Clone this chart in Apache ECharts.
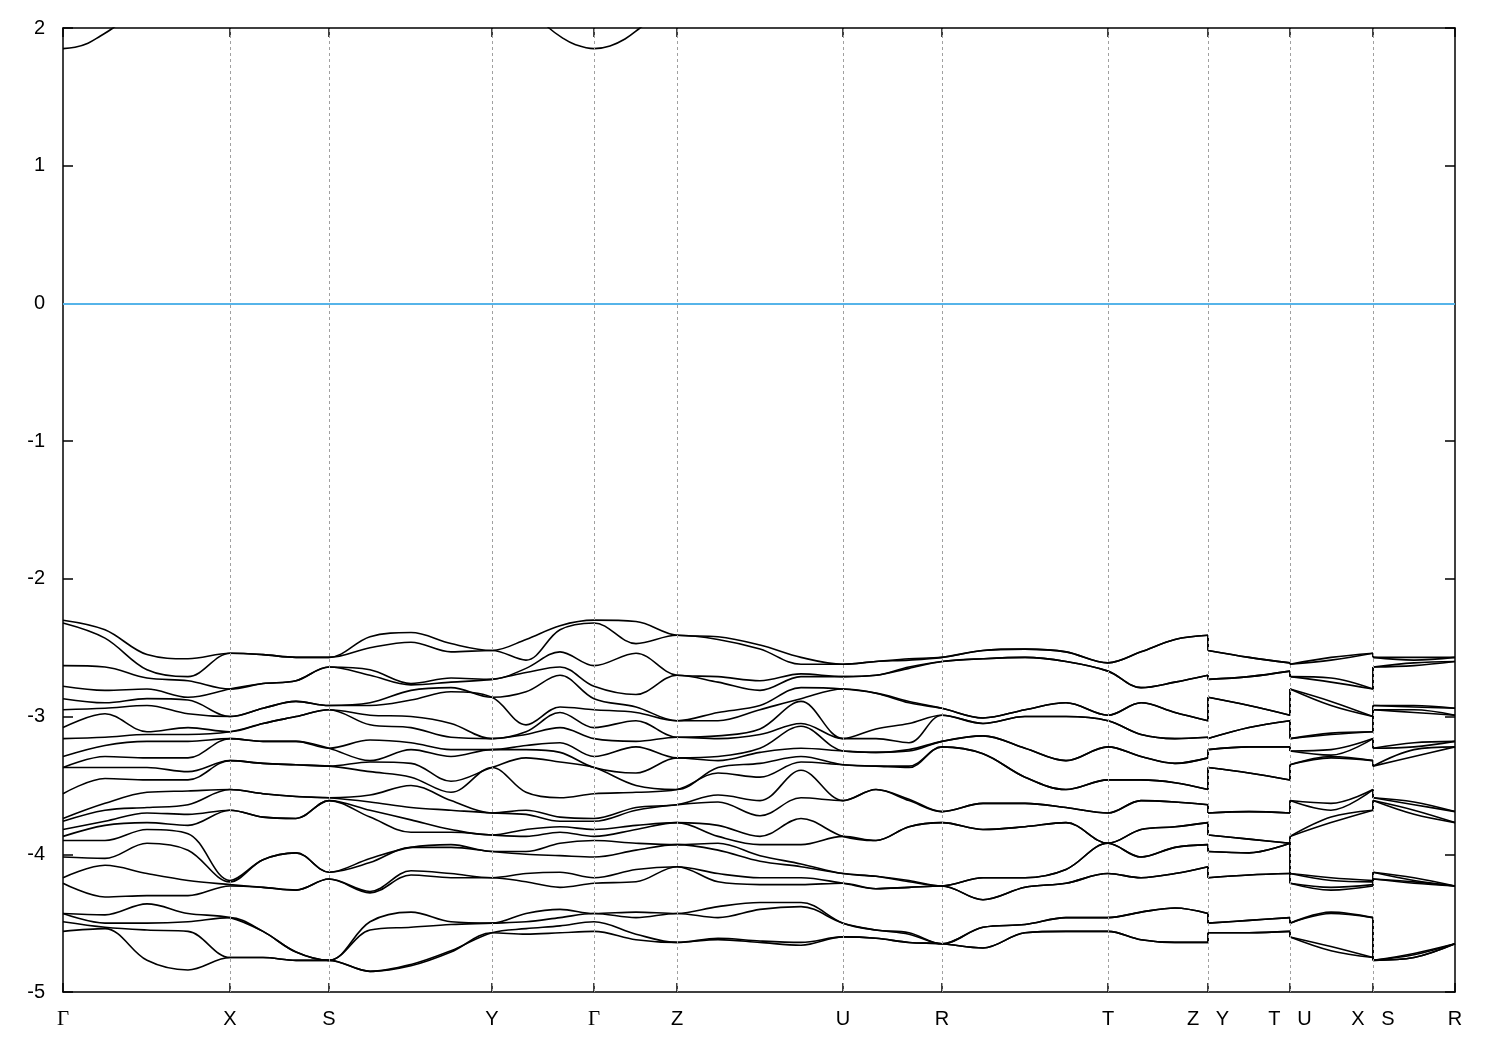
<!DOCTYPE html>
<html><head><meta charset="utf-8">
<script src="https://cdn.jsdelivr.net/npm/echarts@6/dist/echarts.min.js"></script>
<style>html,body{margin:0;padding:0;background:#fff}#c{width:1500px;height:1050px}</style>
</head><body><div id="c"></div>
<script>
// high-symmetry path ticks
const kTicks = [0, 0.167, 0.266, 0.429, 0.531, 0.614, 0.780, 0.879, 1.045, 1.145, 1.227, 1.310, 1.392];
const kLabels = ['Γ', 'X', 'S', 'Y', 'Γ', 'Z', 'U', 'R', 'T', 'Z   Y', 'T   U', 'X   S', 'R'];
const yTicks = [-5, -4, -3, -2, -1, 0, 1, 2];

// energies (eV) of the 24 valence bands, sorted, at each sampled k-point
const gammaPt = [-2.30,-2.32,-2.63,-2.78,-2.87,-2.95,-3.08,-3.16,-3.29,-3.37,-3.37,-3.56,-3.74,-3.76,-3.82,-3.87,-3.90,-4.02,-4.17,-4.21,-4.43,-4.43,-4.49,-4.56];
const gx1 = [-2.37,-2.43,-2.64,-2.81,-2.90,-2.94,-2.98,-3.15,-3.21,-3.29,-3.37,-3.45,-3.63,-3.68,-3.76,-3.79,-3.90,-4.03,-4.08,-4.31,-4.44,-4.50,-4.53,-4.54];
const gx2 = [-2.55,-2.66,-2.72,-2.80,-2.87,-2.92,-3.11,-3.13,-3.18,-3.30,-3.37,-3.46,-3.55,-3.66,-3.70,-3.77,-3.82,-3.92,-4.14,-4.30,-4.36,-4.50,-4.55,-4.77];
const gx3 = [-2.58,-2.71,-2.74,-2.86,-2.88,-2.98,-3.08,-3.13,-3.18,-3.30,-3.40,-3.46,-3.54,-3.64,-3.71,-3.79,-3.85,-3.97,-4.19,-4.30,-4.43,-4.49,-4.56,-4.84];
const xPt = [-2.54,-2.54,-2.80,-2.80,-3.00,-3.00,-3.11,-3.11,-3.16,-3.16,-3.32,-3.32,-3.53,-3.53,-3.68,-3.68,-4.19,-4.20,-4.22,-4.23,-4.46,-4.46,-4.75,-4.75];
const xs1 = [-2.55,-2.55,-2.76,-2.76,-2.94,-2.94,-3.05,-3.05,-3.18,-3.18,-3.34,-3.34,-3.56,-3.56,-3.73,-3.73,-4.04,-4.04,-4.24,-4.24,-4.56,-4.56,-4.75,-4.75];
const xs2 = [-2.57,-2.57,-2.74,-2.74,-2.89,-2.89,-3.00,-3.00,-3.18,-3.18,-3.35,-3.35,-3.58,-3.58,-3.74,-3.74,-3.99,-3.99,-4.26,-4.26,-4.71,-4.71,-4.77,-4.77];
const sPt = [-2.57,-2.57,-2.64,-2.64,-2.92,-2.92,-2.95,-2.95,-3.23,-3.23,-3.36,-3.36,-3.59,-3.59,-3.61,-3.61,-4.13,-4.13,-4.18,-4.18,-4.77,-4.77,-4.77,-4.77];
const sy1 = [-2.42,-2.50,-2.66,-2.70,-2.90,-2.92,-2.99,-3.06,-3.17,-3.32,-3.33,-3.40,-3.57,-3.62,-3.68,-3.73,-4.03,-4.06,-4.27,-4.28,-4.49,-4.55,-4.85,-4.85];
const sy2 = [-2.39,-2.46,-2.76,-2.77,-2.81,-2.88,-3.00,-3.08,-3.19,-3.24,-3.34,-3.44,-3.50,-3.66,-3.75,-3.84,-3.95,-3.95,-4.12,-4.15,-4.42,-4.53,-4.80,-4.81];
const sy3 = [-2.47,-2.53,-2.72,-2.75,-2.79,-2.82,-3.05,-3.15,-3.24,-3.29,-3.47,-3.55,-3.61,-3.68,-3.82,-3.84,-3.93,-3.95,-4.14,-4.17,-4.49,-4.51,-4.70,-4.71];
const yPt = [-2.52,-2.52,-2.73,-2.73,-2.86,-2.86,-3.16,-3.16,-3.24,-3.24,-3.37,-3.37,-3.70,-3.70,-3.86,-3.86,-3.98,-3.98,-4.17,-4.17,-4.50,-4.50,-4.57,-4.57];
const yg1 = [-2.44,-2.59,-2.65,-2.68,-2.82,-3.06,-3.11,-3.13,-3.21,-3.24,-3.30,-3.55,-3.68,-3.71,-3.82,-3.87,-3.98,-4.00,-4.14,-4.20,-4.43,-4.49,-4.54,-4.58];
const yg2 = [-2.34,-2.37,-2.53,-2.64,-2.70,-2.93,-2.97,-3.08,-3.19,-3.26,-3.33,-3.59,-3.73,-3.76,-3.80,-3.84,-3.92,-4.01,-4.13,-4.24,-4.40,-4.46,-4.52,-4.57];
const gz1 = [-2.31,-2.47,-2.54,-2.84,-2.93,-2.97,-3.03,-3.18,-3.22,-3.41,-3.50,-3.55,-3.66,-3.68,-3.79,-3.82,-3.92,-3.97,-4.11,-4.20,-4.42,-4.46,-4.58,-4.62];
const zPt = [-2.41,-2.41,-2.70,-2.70,-3.03,-3.03,-3.15,-3.15,-3.30,-3.30,-3.53,-3.53,-3.64,-3.64,-3.77,-3.77,-3.93,-3.93,-4.09,-4.09,-4.43,-4.43,-4.64,-4.64];
const zu1 = [-2.42,-2.44,-2.71,-2.75,-2.97,-3.03,-3.14,-3.16,-3.29,-3.32,-3.37,-3.41,-3.57,-3.62,-3.79,-3.87,-3.92,-3.97,-4.14,-4.20,-4.38,-4.46,-4.61,-4.62];
const zu2 = [-2.48,-2.51,-2.74,-2.81,-2.92,-2.95,-3.09,-3.13,-3.23,-3.26,-3.34,-3.44,-3.61,-3.72,-3.87,-3.93,-4.01,-4.05,-4.17,-4.22,-4.35,-4.40,-4.63,-4.64];
const zu3 = [-2.57,-2.62,-2.69,-2.71,-2.79,-2.87,-2.89,-3.05,-3.07,-3.23,-3.29,-3.33,-3.39,-3.59,-3.74,-3.93,-4.07,-4.09,-4.17,-4.22,-4.35,-4.38,-4.64,-4.66];
const uPt = [-2.62,-2.62,-2.71,-2.71,-2.80,-2.80,-3.16,-3.16,-3.25,-3.25,-3.35,-3.35,-3.61,-3.61,-3.87,-3.87,-4.14,-4.14,-4.21,-4.21,-4.50,-4.50,-4.60,-4.60];
const ur1 = [-2.60,-2.60,-2.70,-2.70,-2.83,-2.83,-3.09,-3.16,-3.26,-3.26,-3.36,-3.36,-3.53,-3.53,-3.90,-3.90,-4.16,-4.16,-4.25,-4.25,-4.55,-4.55,-4.61,-4.61];
const ur2 = [-2.58,-2.59,-2.64,-2.65,-2.89,-2.90,-3.05,-3.19,-3.24,-3.25,-3.36,-3.37,-3.60,-3.61,-3.80,-3.80,-4.19,-4.20,-4.24,-4.24,-4.57,-4.58,-4.64,-4.64];
const rPt = [-2.57,-2.57,-2.60,-2.60,-2.94,-2.94,-2.99,-2.99,-3.18,-3.18,-3.22,-3.22,-3.69,-3.69,-3.77,-3.77,-4.23,-4.23,-4.23,-4.23,-4.65,-4.65,-4.65,-4.65];
const rt1 = [-2.52,-2.52,-2.58,-2.58,-3.01,-3.01,-3.05,-3.05,-3.14,-3.14,-3.27,-3.27,-3.63,-3.63,-3.82,-3.82,-4.17,-4.17,-4.33,-4.33,-4.53,-4.53,-4.68,-4.68];
const rt2 = [-2.51,-2.51,-2.57,-2.57,-2.95,-2.95,-3.00,-3.00,-3.23,-3.23,-3.44,-3.44,-3.63,-3.63,-3.80,-3.80,-4.17,-4.17,-4.24,-4.24,-4.51,-4.51,-4.57,-4.57];
const rt3 = [-2.53,-2.53,-2.60,-2.60,-2.90,-2.90,-3.00,-3.00,-3.32,-3.32,-3.53,-3.53,-3.66,-3.66,-3.77,-3.77,-4.11,-4.11,-4.21,-4.21,-4.46,-4.46,-4.56,-4.56];
const tPt = [-2.61,-2.61,-2.67,-2.67,-2.99,-2.99,-3.03,-3.03,-3.22,-3.22,-3.46,-3.46,-3.70,-3.70,-3.92,-3.92,-3.92,-3.92,-4.14,-4.14,-4.46,-4.46,-4.56,-4.56];
const tz1 = [-2.53,-2.53,-2.79,-2.79,-2.90,-2.90,-3.13,-3.13,-3.29,-3.29,-3.46,-3.46,-3.61,-3.61,-3.82,-3.82,-4.02,-4.02,-4.17,-4.17,-4.42,-4.42,-4.62,-4.62];
const tz2 = [-2.44,-2.44,-2.75,-2.75,-2.97,-2.97,-3.16,-3.16,-3.34,-3.34,-3.48,-3.48,-3.62,-3.62,-3.80,-3.80,-3.95,-3.95,-4.14,-4.14,-4.39,-4.39,-4.64,-4.64];
const yt1 = [-2.57,-2.57,-2.71,-2.71,-2.92,-2.92,-3.08,-3.08,-3.22,-3.22,-3.41,-3.41,-3.69,-3.69,-3.89,-3.89,-3.99,-3.99,-4.15,-4.15,-4.48,-4.48,-4.57,-4.57];
const ux1 = [-2.57,-2.59,-2.72,-2.75,-2.89,-2.92,-3.12,-3.13,-3.24,-3.28,-3.29,-3.30,-3.63,-3.68,-3.73,-3.77,-4.17,-4.19,-4.24,-4.26,-4.42,-4.43,-4.67,-4.70];
const sr1 = [-2.57,-2.59,-2.61,-2.63,-2.92,-2.93,-2.95,-2.97,-3.19,-3.22,-3.24,-3.29,-3.62,-3.64,-3.68,-3.71,-4.17,-4.19,-4.20,-4.21,-4.72,-4.73,-4.75,-4.75];

// k-coordinate of each sampled column (jumps at Z|Y, T|U, X|S repeat the k value)
const kPath = [0, 0.042, 0.084, 0.125, 0.167, 0.200, 0.233, 0.266, 0.307, 0.348, 0.388, 0.429, 0.463, 0.497, 0.531, 0.573, 0.614, 0.655, 0.697, 0.738, 0.780, 0.813, 0.846, 0.879, 0.920, 0.962, 1.003, 1.045, 1.078, 1.112, 1.145, 1.145, 1.186, 1.227, 1.227, 1.268, 1.310, 1.310, 1.351, 1.392];
const columns = [gammaPt, gx1, gx2, gx3, xPt, xs1, xs2, sPt, sy1, sy2, sy3, yPt, yg1, yg2, gammaPt, gz1, zPt, zu1, zu2, zu3, uPt, ur1, ur2, rPt, rt1, rt2, rt3, tPt, tz1, tz2, zPt, yPt, yt1, tPt, uPt, ux1, xPt, sPt, sr1, rPt];
// continuous path pieces (index ranges into kPath), separated by the jumps
const pieces = [[0, 30], [31, 33], [34, 36], [37, 39]];

// conduction band pieces dipping below 2 eV near the two Γ points
const cb1K = [0, 0.012, 0.025, 0.037, 0.050, 0.062];
const cb1E = [1.85, 1.86, 1.89, 1.94, 2.00, 2.07];
const cb2K = [0.477, 0.486, 0.499, 0.512, 0.531, 0.547, 0.562, 0.577, 0.589];
const cb2E = [2.07, 2.00, 1.93, 1.88, 1.85, 1.87, 1.92, 2.00, 2.07];

const chart = echarts.init(document.getElementById('c'), null, {renderer: 'canvas'});
const nBands = gammaPt.length;
const series = [];
const bandStyle = {color: '#000', width: 1.6};
function lineSeries(data, smooth) {
  return {type: 'line', data: data, showSymbol: false, smooth: smooth, lineStyle: bandStyle,
    itemStyle: {color: '#000'}, silent: true, z: 3, animation: false, clip: true};
}
for (let b = 0; b < nBands; b++) {
  pieces.forEach(([a, e], p) => {
    const d = [];
    for (let i = a; i <= e; i++) d.push([kPath[i], columns[i][b]]);
    series.push(lineSeries(d, 0.35));
    if (p < pieces.length - 1) {
      // vertical connector across the path discontinuity
      series.push(lineSeries([[kPath[e], columns[e][b]], [kPath[e + 1], columns[e + 1][b]]], false));
    }
  });
}
[[cb1K, cb1E], [cb2K, cb2E]].forEach(([ks, es]) => {
  series.push(lineSeries(ks.map((k, i) => [k, es[i]]), 0.4));
});
// dashed separators and the Fermi level
series.push({
  type: 'line', data: [], silent: true, animation: false,
  markLine: {
    silent: true, symbol: ['none', 'none'], animation: false, label: {show: false}, precision: 6,
    data: kTicks.slice(1, -1).map(v => ({xAxis: v, lineStyle: {type: [3, 3], color: '#a0a0a0', width: 1}}))
      .concat([{yAxis: 0, lineStyle: {type: 'solid', color: '#56b4e9', width: 2}}])
  }
});

function kLabel(v) {
  const i = kTicks.findIndex(t => Math.abs(t - v) < 1e-6);
  if (i < 0) return '';
  const s = kLabels[i];
  return s === 'Γ' ? '{g|Γ}' : s;
}
const axisLineStyle = {show: true, onZero: false, lineStyle: {color: '#000', width: 1.5}};
chart.setOption({
  backgroundColor: '#fff',
  animation: false,
  grid: {left: 63, right: 45, top: 28, bottom: 58, containLabel: false},
  xAxis: [
    {type: 'value', min: 0, max: kTicks[kTicks.length - 1], position: 'bottom',
     axisLine: axisLineStyle,
     axisTick: {show: true, inside: true, length: 9, customValues: kTicks, lineStyle: {color: '#000', width: 1.5}},
     axisLabel: {show: true, customValues: kTicks, formatter: kLabel, color: '#000', fontSize: 20,
       fontFamily: 'Liberation Sans, Arial, sans-serif', margin: 17,
       rich: {g: {fontFamily: 'Liberation Serif, DejaVu Serif, serif', fontSize: 21, color: '#000'}}},
     splitLine: {show: false}},
    {type: 'value', min: 0, max: kTicks[kTicks.length - 1], position: 'top',
     axisLine: axisLineStyle,
     axisTick: {show: true, inside: true, length: 9, customValues: kTicks, lineStyle: {color: '#000', width: 1.5}},
     axisLabel: {show: false}, splitLine: {show: false}}
  ],
  yAxis: [
    {type: 'value', min: yTicks[0], max: yTicks[yTicks.length - 1], interval: 1, position: 'left',
     axisLine: axisLineStyle,
     axisTick: {show: true, inside: true, length: 10, lineStyle: {color: '#000', width: 1.5}},
     axisLabel: {color: '#000', fontSize: 20, fontFamily: 'Liberation Sans, Arial, sans-serif', margin: 18},
     splitLine: {show: false}},
    {type: 'value', min: yTicks[0], max: yTicks[yTicks.length - 1], interval: 1, position: 'right',
     axisLine: axisLineStyle,
     axisTick: {show: true, inside: true, length: 10, lineStyle: {color: '#000', width: 1.5}},
     axisLabel: {show: false}, splitLine: {show: false}}
  ],
  series: series
});
</script></body></html>
